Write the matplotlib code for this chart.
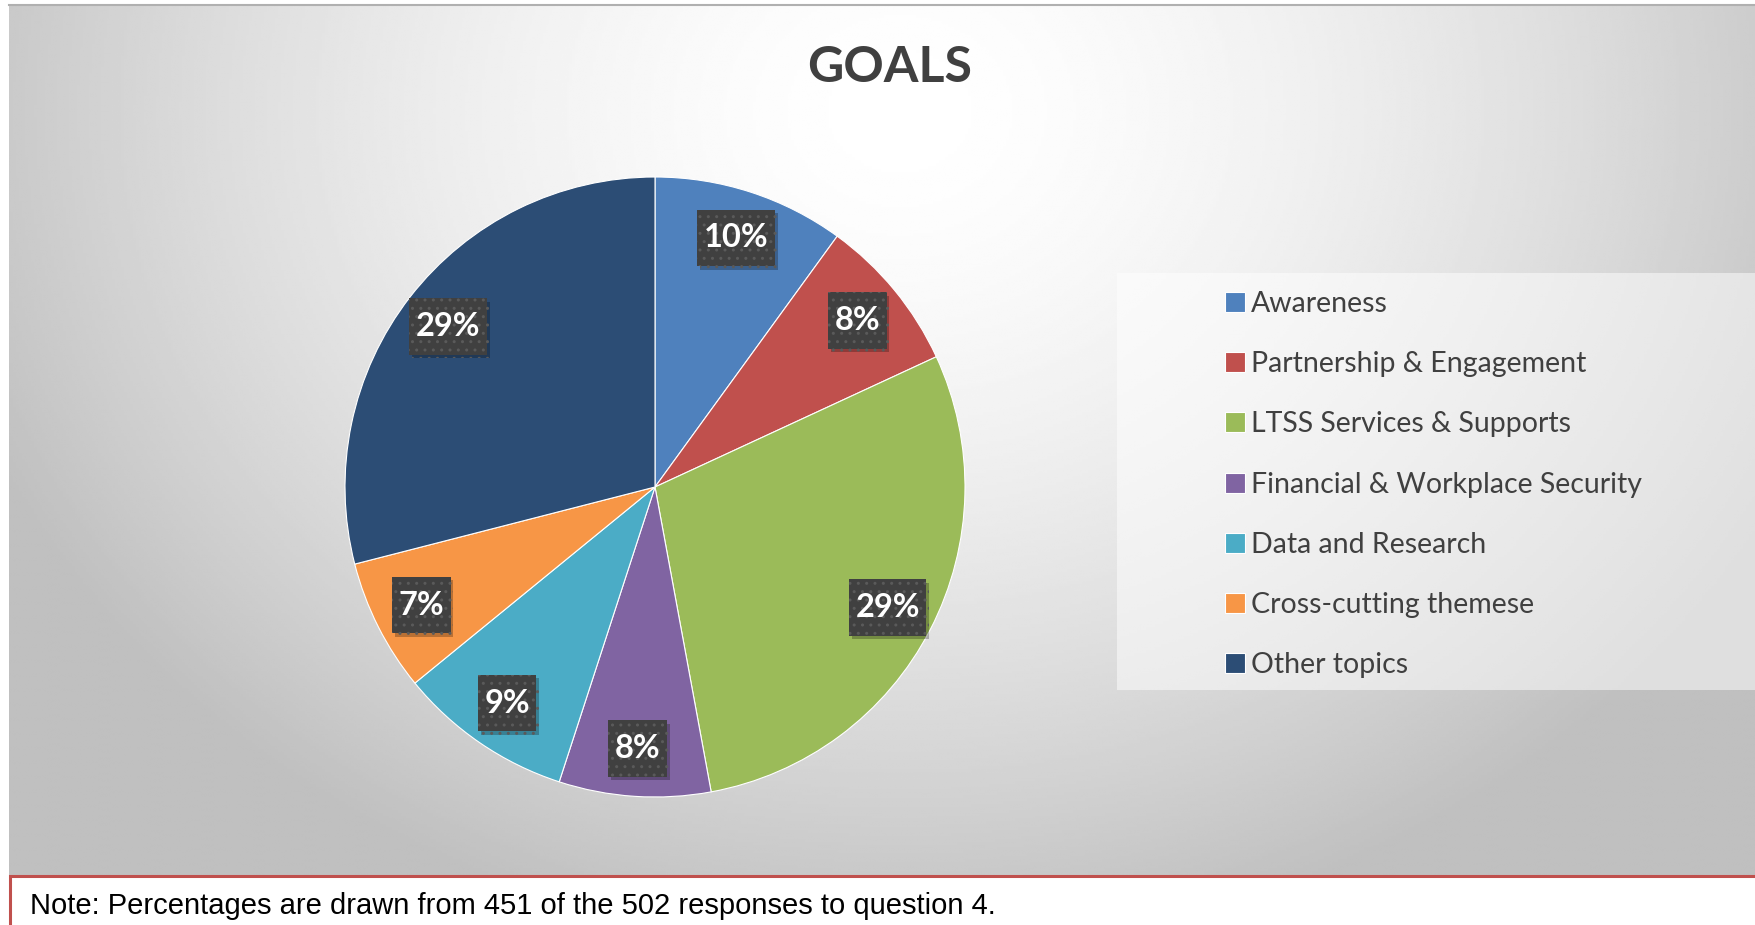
import matplotlib
matplotlib.use('Agg')
import matplotlib.pyplot as plt
import matplotlib.patheffects as pe
import numpy as np
from matplotlib.patches import Rectangle
from matplotlib.path import Path

# data
categories = ['Awareness', 'Partnership & Engagement', 'LTSS Services & Supports',
              'Financial & Workplace Security', 'Data and Research',
              'Cross-cutting themese', 'Other topics']
shares = [10.0, 8.1, 29.0, 7.9, 9.1, 6.9, 29.0]
colors = ['#4F81BD', '#C0504D', '#9BBB59', '#8064A2', '#4BACC6', '#F79646', '#2C4D75']
title = 'GOALS'
note = 'Note: Percentages are drawn from 451 of the 502 responses to question 4.'

W, H = 1756, 925
fig = plt.figure(figsize=(W / 100, H / 100), dpi=100)


def tall_box(x0, y0, width, height, mutation_size):
    # label box with more room above and below than at the sides
    px, py = 0.2 * mutation_size, 0.42 * mutation_size
    x0, y0 = x0 - px, y0 - py
    x1, y1 = x0 + width + 2 * px, y0 + height + 2 * py
    return Path([(x0, y0), (x1, y0), (x1, y1), (x0, y1), (x0, y0)], closed=True)


# background axes in pixel coords
bg = fig.add_axes([0, 0, 1, 1])
bg.set_xlim(0, W)
bg.set_ylim(H, 0)
bg.axis('off')

# radial gradient of the chart area
xs = np.linspace(9, W, 600)
ys = np.linspace(5, 875, 300)
X, Y = np.meshgrid(xs, ys)
r = np.sqrt(((X - 900) / 1000) ** 2 + ((Y - 110) / 850) ** 2)
g = 1 - 0.25 * np.clip(r, 0, 1) ** 1.6
bg.imshow(g, cmap='gray', vmin=0, vmax=1, extent=(9, W, 875, 5),
          aspect='auto', interpolation='bilinear', zorder=0)
bg.plot([9, W], [4.5, 4.5], color='#b0b0b0', lw=1.5, zorder=1)

# legend panel
bg.add_patch(Rectangle((1117, 273), W - 1117 + 5, 417, fc='white', alpha=0.5,
                       ec='none', zorder=1))

bg.text(890, 82, title, ha='center', va='baseline', fontsize=36,
        fontweight='bold', color='#404040', family='Lato', zorder=2)

# note box
bg.add_patch(Rectangle((10, 875.5), W, 60, fc='white', ec='#C0504D', lw=2.2, zorder=2))
bg.text(30, 914, note, family='Liberation Sans', fontsize=21, va='baseline',
        color='black', zorder=3)

# pie
ax = fig.add_axes([(655 - 310) / W, (H - 487 - 310) / H, 620 / W, 620 / H])
wedges, _ = ax.pie(shares, colors=colors, startangle=90, counterclock=False, radius=1,
                   wedgeprops=dict(edgecolor='white', linewidth=0.8))
ax.set_xlim(-1, 1)
ax.set_ylim(-1, 1)

for w, v in zip(wedges, shares):
    ang = np.deg2rad((w.theta1 + w.theta2) / 2)
    x, y = 0.845 * np.cos(ang), 0.845 * np.sin(ang)
    t = ax.text(x, y, f'{v:.0f}%', ha='center', va='center', fontsize=23.5,
                fontweight='bold', family='Lato', color='white',
                bbox=dict(boxstyle=tall_box, fc='#404040', ec='#5a5a5a',
                          lw=0, hatch='..'))
    t.get_bbox_patch().set_path_effects([
        pe.SimplePatchShadow(offset=(2, -2.5), shadow_rgbFace='black', alpha=0.25),
        pe.Normal()])

fig.legend(wedges, categories, loc='upper left', bbox_to_anchor=(1225 / W, 1 - 291 / H),
           frameon=False, prop=dict(family='Lato', size=20.5), labelcolor='#404040',
           handlelength=0.7, handleheight=0.7, handletextpad=0.2,
           labelspacing=1.2, borderpad=0, borderaxespad=0)

fig.savefig('out.png', dpi=100)
